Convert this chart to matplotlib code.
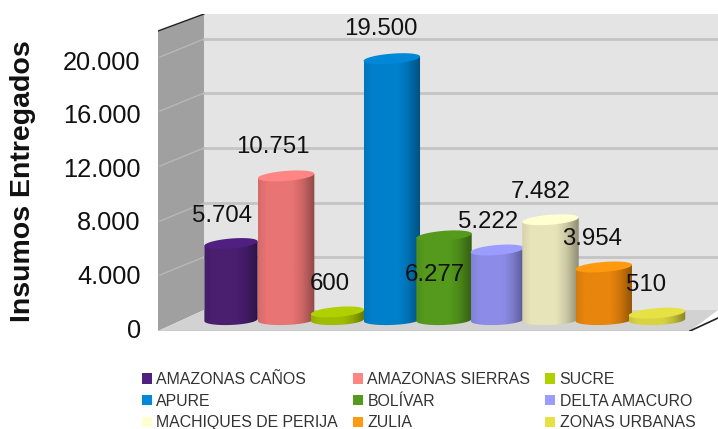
import numpy as np
import matplotlib
matplotlib.use("Agg")
import matplotlib.pyplot as plt
from matplotlib.patches import PathPatch, Patch, Polygon
from matplotlib.path import Path

plt.rcParams['font.family'] = ['Liberation Sans', 'DejaVu Sans']

categories = ["AMAZONAS CAÑOS", "AMAZONAS SIERRAS", "SUCRE", "APURE", "BOLÍVAR",
              "DELTA AMACURO", "MACHIQUES DE PERIJA", "ZULIA", "ZONAS URBANAS"]
values = [5704, 10751, 600, 19500, 6277, 5222, 7482, 3954, 510]
body_colors = ["#4a1f70", "#e97474", "#a0bc00", "#0080cc", "#559a1c",
               "#8c8ce8", "#e8e4ba", "#e8850c", "#d8d440"]
top_colors = ["#4f2080", "#ff8585", "#b0d000", "#0088d8", "#559a1c",
              "#9c9cff", "#ffffd0", "#ff9a10", "#e6e245"]
y_ticks = [0, 4000, 8000, 12000, 16000, 20000]


def fmt(v):
    return f"{v:,}".replace(",", ".")


W, H = 718, 429
PX_PER_UNIT = 0.0134   # pixels for one unit on the y axis
CAT_PX = 53.25         # pixels between two cylinders
FIRST_PX = 231

# axes spans the front edge of the 3d box up to the right border
left_px, right_px, bottom_px, top_px = 158, 718, 331, 14
fig = plt.figure(figsize=(W / 100, H / 100), dpi=100)
ax = fig.add_axes([left_px / W, 1 - bottom_px / H, (right_px - left_px) / W, (bottom_px - top_px) / H])
xlim = ((left_px - FIRST_PX) / CAT_PX, (right_px - FIRST_PX) / CAT_PX)
ylim = ((328 - bottom_px) / PX_PER_UNIT, (328 - top_px) / PX_PER_UNIT)


def X(px):
    return (px - FIRST_PX) / CAT_PX


def Y(py):
    return (328 - py) / PX_PER_UNIT


# back wall, side wall, floor
ax.add_patch(Polygon([(X(204), Y(14)), (X(718), Y(14)), (X(718), Y(310)), (X(204), Y(310))],
                     fc="#e4e4e4", ec="none", zorder=0))
ax.add_patch(Polygon([(X(158), Y(31)), (X(204), Y(14)), (X(204), Y(310)), (X(158), Y(331))],
                     fc="#a0a0a0", ec="none", zorder=0))
ax.add_patch(Polygon([(X(158), Y(331)), (X(204), Y(310)), (X(718), Y(310)), (X(690), Y(331))],
                     fc="#d2d2d2", ec="none", zorder=0))
ax.plot([X(158), X(690)], [Y(331), Y(331)], color="#b0b0b0", lw=1, zorder=1)
ax.plot([X(158), X(204)], [Y(31), Y(14)], color="#222222", lw=1, zorder=1)
ax.plot([X(690), X(718)], [Y(331), Y(318)], color="#222222", lw=1.2, zorder=1)

# grid on back wall and side wall
for g in [39, 93, 148, 203, 257]:
    ax.plot([X(204), X(718)], [Y(g), Y(g)], color="#c4c4c4", lw=2, zorder=1)
    ax.plot([X(160), X(204)], [Y(g + 18), Y(g)], color="#b8b8b8", lw=1, zorder=1)

base = 600            # cylinders stand a little behind the front edge
half_w = 0.5
half_h = 5 / PX_PER_UNIT
tilt = 2.2 / PX_PER_UNIT   # ellipses lean up to the right
shade_x = [0, 0.15, 0.6, 0.78, 1]
shade_k = [0.92, 1.0, 1.0, 0.88, 0.62]
shift = [0, 0.035, 0, 0.02, 0, 0, 0, 0, 0]
widen = [1.0, 1.06, 1.0, 1.06, 1.04, 1.0, 1.06, 1.06, 1.06]

for i, (v, c) in enumerate(zip(values, body_colors)):
    z = 3 + i
    rgb = np.array(matplotlib.colors.to_rgb(c))
    w = half_w * widen[i]
    cx = i + shift[i]
    top = base + v
    t = np.linspace(0, 2 * np.pi, 80)
    ex = np.cos(t)
    ey = np.sin(t)
    verts = [(cx - w, top - tilt), (cx + w, top + tilt)]
    verts += [(cx + w * np.cos(a), base - half_h * np.sin(a) + tilt * 0.5 * np.cos(a))
              for a in np.linspace(0, np.pi, 40)]
    body = PathPatch(Path(verts + [verts[0]]), transform=ax.transData, fc="none", ec="none")
    ax.add_patch(body)
    k = np.interp(np.linspace(0, 1, 64), shade_x, shade_k)
    img = ax.imshow((k[:, None] * rgb)[None, :, :].clip(0, 1),
                    extent=(cx - w, cx + w, base - half_h - tilt, top + tilt),
                    aspect="auto", zorder=z, interpolation="bilinear")
    img.set_clip_path(body)
    ax.add_patch(Polygon(np.column_stack([cx + w * ex, top + half_h * ey + tilt * ex]),
                         fc=top_colors[i], ec="none", zorder=z + 0.5))

# data labels, offset in pixels from the top of the cylinder
label_dx = [-9, -13, -8, -11, -9, -9, -10, -12, -11]
label_dy = [28, 29, 28, 30, -39, 28, 28, 28, 28]
for i, v in enumerate(values):
    ax.annotate(fmt(v), (i + shift[i], base + v), xytext=(label_dx[i] * 0.72, label_dy[i] * 0.72),
                textcoords="offset points", ha="center", va="center", fontsize=17.3, color="#111111", zorder=30)

ax.set_xlim(xlim)
ax.set_ylim(ylim)
ax.set_xticks([])
ax.set_yticks(y_ticks)
ax.set_yticklabels([fmt(v) for v in y_ticks], fontsize=18.3, color="#111111")
ax.tick_params(axis="y", length=0, pad=12.5)
for sp in ax.spines.values():
    sp.set_visible(False)

fig.text(23 / W, 1 - 181 / H, "Insumos Entregados", rotation=90, ha="center", va="center",
         fontsize=20.5, fontweight="bold", color="#111111")

# legend reads by rows, matplotlib fills by columns
order = [0, 3, 6, 1, 4, 7, 2, 5, 8]
handles = [Patch(fc=top_colors[i], ec="none", label=categories[i]) for i in order]
fig.legend(handles=handles, ncol=3, loc="upper left", bbox_to_anchor=(131 / W, 1 - 361 / H), frameon=False,
           fontsize=11.4, handlelength=0.6, handleheight=0.6, handletextpad=0.3, columnspacing=0.95,
           labelspacing=0.42, borderpad=0.2, labelcolor="#333333")

fig.savefig("out.png", dpi=100)
